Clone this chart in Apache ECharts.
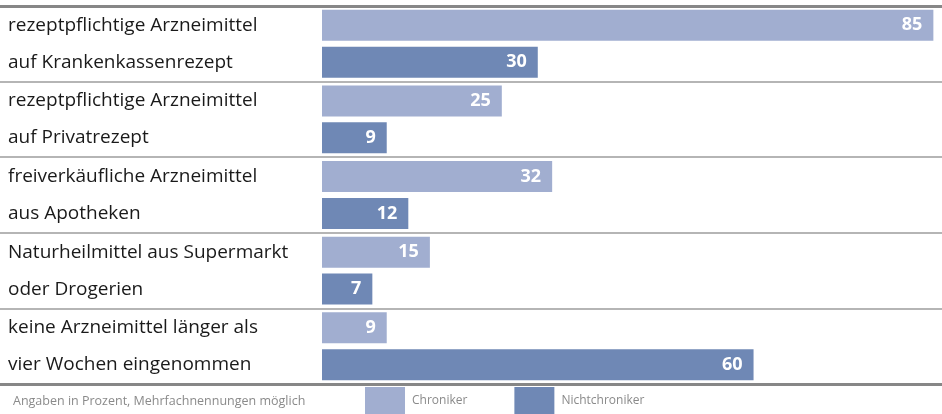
<!DOCTYPE html>
<html>
<head>
<meta charset="utf-8">
<script src="https://cdn.jsdelivr.net/npm/echarts@6/dist/echarts.min.js"></script>
<style>html,body{margin:0;padding:0;background:#fff}#c{width:942px;height:414px}</style>
</head>
<body>
<div id="c"></div>
<script>
const categories = [
  'rezeptpflichtige Arzneimittel\nauf Krankenkassenrezept',
  'rezeptpflichtige Arzneimittel\nauf Privatrezept',
  'freiverkäufliche Arzneimittel\naus Apotheken',
  'Naturheilmittel aus Supermarkt\noder Drogerien',
  'keine Arzneimittel länger als\nvier Wochen eingenommen'
];
const seriesNames = ['Chroniker', 'Nichtchroniker'];
const chroniker = [85, 25, 32, 15, 9];
const nichtchroniker = [30, 9, 12, 7, 60];
const footnote = 'Angaben in Prozent, Mehrfachnennungen möglich';

const FONT = 'Open Sans';
const LIGHT = '#A1AED0';
const DARK = '#6F88B5';

const chart = echarts.init(document.getElementById('c'), null, {renderer: 'canvas'});
const barLabel = {
  show: true, position: 'insideRight', distance: 11,
  color: '#fff', fontWeight: 'bold', fontSize: 18, fontFamily: FONT
};
chart.setOption({
  animation: false,
  title: {
    text: footnote, left: 8, top: 390,
    textStyle: {fontSize: 12.5, fontWeight: 'normal', color: '#8a8a8a', fontFamily: FONT}
  },
  legend: {
    data: seriesNames, left: 365, top: 387, padding: 0, itemWidth: 40, itemHeight: 27, itemGap: 47,
    icon: 'rect', selectedMode: false,
    textStyle: {fontSize: 12, color: '#8a8a8a', fontFamily: FONT, padding: [0, 0, 0, 2]}
  },
  grid: [
    {left: 322, top: 6, bottom: 30, right: 0},
    {left: 0, right: 0, top: 6, bottom: 30}
  ],
  xAxis: [
    {gridIndex: 0, type: 'value', min: 0, max: 86.2, show: false},
    {gridIndex: 1, type: 'value', position: 'bottom', axisLine: {show: true, lineStyle: {color: '#878787', width: 3}},
     axisTick: {show: false}, axisLabel: {show: false}, splitLine: {show: false}},
    {gridIndex: 1, type: 'value', position: 'top', axisLine: {show: true, lineStyle: {color: '#878787', width: 3}},
     axisTick: {show: false}, axisLabel: {show: false}, splitLine: {show: false}}
  ],
  yAxis: [
    {gridIndex: 0, type: 'category', data: categories, inverse: true,
     axisLine: {show: false}, axisTick: {show: false}, splitLine: {show: false},
     axisLabel: {align: 'left', margin: 314, fontSize: 19, lineHeight: 37, color: '#1a1a1a', fontFamily: FONT}},
    {gridIndex: 1, type: 'category', data: categories, inverse: true,
     axisLine: {show: false}, axisTick: {show: false}, axisLabel: {show: false},
     splitLine: {show: true, lineStyle: {color: '#b5b5b5', width: 2}}}
  ],
  series: [
    {name: seriesNames[0], type: 'bar', xAxisIndex: 0, yAxisIndex: 0, data: chroniker,
     barWidth: 31, barGap: '19%', itemStyle: {color: LIGHT}, label: barLabel},
    {name: seriesNames[1], type: 'bar', xAxisIndex: 0, yAxisIndex: 0, data: nichtchroniker,
     barWidth: 31, barGap: '19%', itemStyle: {color: DARK}, label: barLabel}
  ]
});
</script>
</body>
</html>
